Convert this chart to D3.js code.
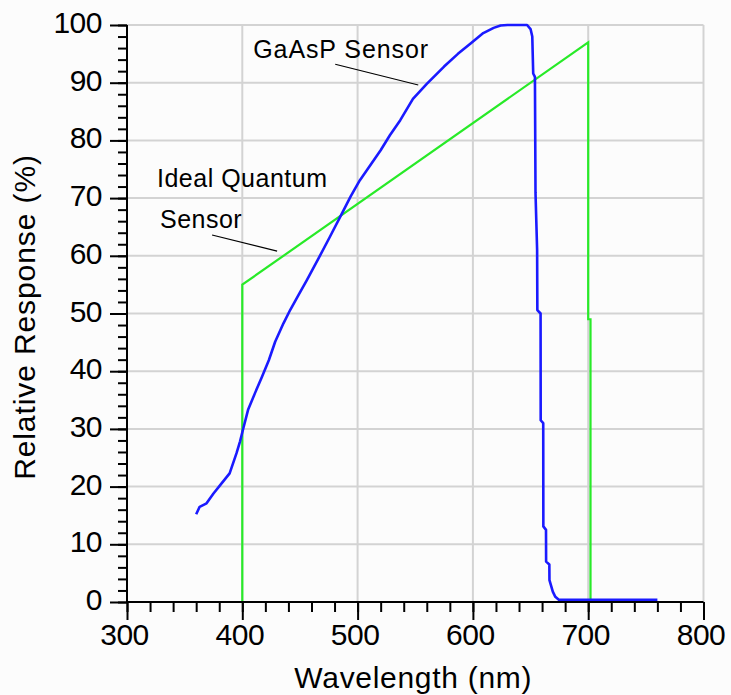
<!DOCTYPE html>
<html>
<head>
<meta charset="utf-8">
<script src="https://cdn.jsdelivr.net/npm/d3@7"></script>
<style>
  html, body { margin: 0; padding: 0; background: #fcfcfc; }
  svg { display: block; font-family: "Liberation Sans", Arial, sans-serif; }
</style>
</head>
<body>
<svg id="chart" width="731" height="695"></svg>
<script>
// ---- Data ----
const gaaspWavelength = [360, 363, 369, 375, 381, 389, 395, 398, 401, 405, 411, 417, 423, 428.5, 435.7, 441.5, 448.7, 456, 466, 476, 485, 494, 502, 511, 520, 528, 537, 548, 560, 575, 587, 598, 609, 618, 624, 630, 647, 650, 651.5, 652.3, 653.8, 654.3, 655.7, 655.9, 658.7, 658.8, 661, 661.1, 663.4, 663.5, 666.3, 666.4, 669.3, 671.5, 674.5, 760];
const gaaspResponse   = [15.2, 16.5, 17.1, 18.8, 20.3, 22.3, 25.8, 27.8, 30.2, 33.3, 36.2, 39.0, 41.9, 45.1, 48.3, 50.6, 53.2, 55.8, 59.5, 63.3, 66.8, 70.3, 73.1, 75.7, 78.3, 80.9, 83.5, 87.2, 89.8, 92.8, 95.0, 96.8, 98.6, 99.5, 99.9, 100, 100, 99.3, 98.0, 91.6, 91.0, 70.9, 61.0, 50.6, 50.0, 31.5, 31.0, 13.1, 12.5, 7.0, 6.5, 3.8, 1.8, 0.9, 0.4, 0.4];

const idealWavelength = [400, 400, 700, 700, 702, 702];
const idealResponse   = [0, 55, 97, 49, 49, 0];

const xMajorTicks = [300, 400, 500, 600, 700, 800];
const yMajorTicks = [0, 10, 20, 30, 40, 50, 60, 70, 80, 90, 100];
const xMinorStep = 20;
const yMinorStep = 2;

const xTitle = "Wavelength (nm)";
const yTitle = "Relative Response (%)";

// annotations in data units
const annoGaAsP = { text: "GaAsP Sensor", x: 409.5, y: 94.3, lx1: 480.6, ly1: 93.2, lx2: 552.6, ly2: 89.6 };
const annoIdealLines = ["Ideal Quantum", "Sensor"];
const annoIdeal = { x: [326, 328.6], y: [71.9, 64.8], lx1: 373.8, ly1: 63.6, lx2: 430.2, ly2: 60.8 };

// ---- Layout ----
const svg = d3.select("#chart");
const x = d3.scaleLinear().domain([300, 800]).range([127, 703.5]);
const y = d3.scaleLinear().domain([0, 100]).range([602, 25]);

const gridColor = "#d3d3d3";

// background
svg.append("rect").attr("width", 731).attr("height", 695).attr("fill", "#fcfcfc");

// grid
const grid = svg.append("g");
grid.selectAll("line.h").data(yMajorTicks.filter(d => d > 0)).join("line")
  .attr("x1", x(300)).attr("x2", x(800))
  .attr("y1", d => y(d)).attr("y2", d => y(d))
  .attr("stroke", gridColor).attr("stroke-width", 2);
grid.selectAll("line.v").data(xMajorTicks.filter(d => d > 300)).join("line")
  .attr("y1", y(0)).attr("y2", y(100))
  .attr("x1", d => x(d)).attr("x2", d => x(d))
  .attr("stroke", gridColor).attr("stroke-width", 2);

// lines
const lineGen = (xs, ys) => d3.line().x((d, i) => x(xs[i])).y((d, i) => y(ys[i]))(xs);

svg.append("path")
  .attr("d", lineGen(idealWavelength, idealResponse))
  .attr("fill", "none").attr("stroke", "#28ea28").attr("stroke-width", 2.2)
  .attr("stroke-linejoin", "miter");

svg.append("path")
  .attr("d", lineGen(gaaspWavelength, gaaspResponse))
  .attr("fill", "none").attr("stroke", "#1a1aff").attr("stroke-width", 2.6)
  .attr("stroke-linejoin", "round");

// axes
const fontSize = 30;
const yMinor = d3.range(0, 100 + 0.001, yMinorStep);
const xMinor = d3.range(300, 800 + 0.001, xMinorStep);

const yAxisMinor = svg.append("g").attr("transform", `translate(${x(300)},0)`)
  .call(d3.axisLeft(y).tickValues(yMinor).tickSize(9).tickFormat(""));
const yAxis = svg.append("g").attr("transform", `translate(${x(300)},0)`)
  .call(d3.axisLeft(y).tickValues(yMajorTicks).tickSize(17).tickPadding(8).tickFormat(d3.format("d")));

const xAxisMinor = svg.append("g").attr("transform", `translate(0,${y(0)})`)
  .call(d3.axisBottom(x).tickValues(xMinor).tickSize(10).tickFormat(""));
const xAxis = svg.append("g").attr("transform", `translate(0,${y(0)})`)
  .call(d3.axisBottom(x).tickValues(xMajorTicks).tickSize(18).tickPadding(4).tickFormat(d3.format("d")));

[yAxisMinor, yAxis, xAxisMinor, xAxis].forEach(g => {
  g.select(".domain").attr("stroke", "#000").attr("stroke-width", 2);
  g.selectAll(".tick line").attr("stroke", "#000").attr("stroke-width", 2);
});
yAxis.selectAll(".tick text")
  .attr("font-size", fontSize).attr("fill", "#000")
  .attr("font-family", "Liberation Sans, Arial, sans-serif")
  .attr("letter-spacing", -0.5)
  .attr("dy", "0.25em");
xAxis.selectAll(".tick text")
  .attr("font-size", fontSize).attr("fill", "#000")
  .attr("font-family", "Liberation Sans, Arial, sans-serif")
  .attr("letter-spacing", -0.5)
  .attr("dx", -3)
  .attr("dy", "0.71em");
yAxis.select(".domain").attr("d", `M0,${y(0)}V${y(100)}`);
yAxisMinor.select(".domain").remove();
xAxis.select(".domain").attr("d", `M${x(300)},0H${x(800)}`);
xAxisMinor.select(".domain").remove();

// axis titles
svg.append("text")
  .attr("x", (x(300) + x(800)) / 2 - 2).attr("y", 688)
  .attr("text-anchor", "middle")
  .attr("font-size", fontSize).attr("letter-spacing", 0.7)
  .attr("fill", "#000")
  .text(xTitle);

svg.append("text")
  .attr("transform", `translate(35,${317}) rotate(-90)`)
  .attr("text-anchor", "middle")
  .attr("font-size", fontSize).attr("letter-spacing", 0.9)
  .attr("fill", "#000")
  .text(yTitle);

// annotations
const annoSize = 25;
svg.append("text")
  .attr("x", x(annoGaAsP.x)).attr("y", y(annoGaAsP.y))
  .attr("font-size", annoSize).attr("letter-spacing", 0.9).attr("fill", "#000")
  .text(annoGaAsP.text);
svg.append("line")
  .attr("x1", x(annoGaAsP.lx1)).attr("y1", y(annoGaAsP.ly1))
  .attr("x2", x(annoGaAsP.lx2)).attr("y2", y(annoGaAsP.ly2))
  .attr("stroke", "#000").attr("stroke-width", 1.2);

annoIdealLines.forEach((t, i) => {
  svg.append("text")
    .attr("x", x(annoIdeal.x[i])).attr("y", y(annoIdeal.y[i]))
    .attr("font-size", annoSize).attr("letter-spacing", 0.5).attr("fill", "#000")
    .text(t);
});
svg.append("line")
  .attr("x1", x(annoIdeal.lx1)).attr("y1", y(annoIdeal.ly1))
  .attr("x2", x(annoIdeal.lx2)).attr("y2", y(annoIdeal.ly2))
  .attr("stroke", "#000").attr("stroke-width", 1.2);
</script>
</body>
</html>
